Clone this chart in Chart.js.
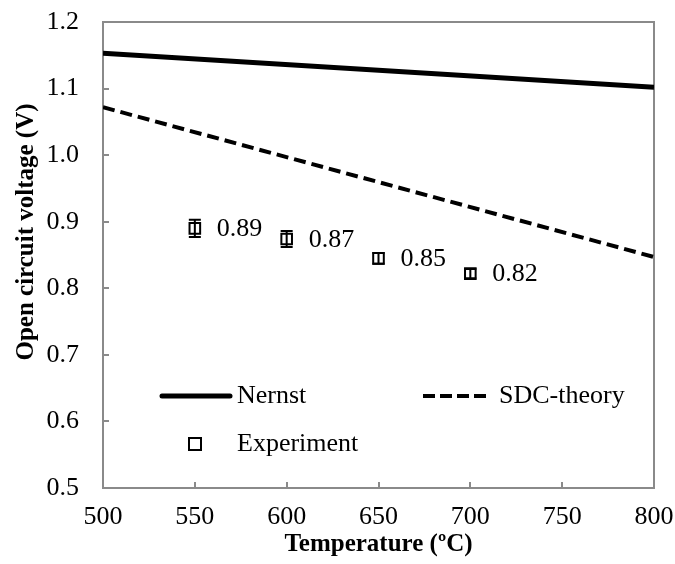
<!DOCTYPE html>
<html>
<head>
<meta charset="utf-8">
<script src="https://cdn.jsdelivr.net/npm/chart.js@4.4.0/dist/chart.umd.min.js"></script>
<style>
  html, body { margin: 0; padding: 0; background: #fff; }
  #wrap { width: 675px; height: 564px; }
</style>
</head>
<body>
<div id="wrap"><canvas id="ocvChart" width="675" height="564"></canvas></div>
<script>
// data
const nernstTemp = [500, 800];
const nernstVolt = [1.153, 1.102];
const sdcTemp = [500, 800];
const sdcVolt = [1.072, 0.847];
const expTemp = [550, 600, 650, 700];
const expVolt = [0.890, 0.874, 0.845, 0.822];
const expErr = [0.013, 0.012, 0.008, 0.007];
const expLabels = ['0.89', '0.87', '0.85', '0.82'];
const yTicks = [0.5, 0.6, 0.7, 0.8, 0.9, 1.0, 1.1, 1.2];

const serif = "'Liberation Serif', 'Times New Roman', serif";
const axisGray = '#8a8a8a';

function toPoints(xs, ys) {
    return xs.map((x, i) => ({ x: x, y: ys[i] }));
}

// frame, inward ticks, axis titles
const framePlugin = {
    id: 'frame',
    beforeDatasetsDraw(chart) {
        const { ctx, chartArea: a, scales } = chart;
        ctx.save();
        ctx.strokeStyle = axisGray;
        ctx.lineWidth = 2;
        ctx.strokeRect(a.left, a.top, a.right - a.left, a.bottom - a.top);
        ctx.beginPath();
        scales.y.ticks.forEach(t => {
            const py = Math.round(scales.y.getPixelForValue(t.value));
            ctx.moveTo(a.left, py);
            ctx.lineTo(a.left + 6, py);
        });
        scales.x.ticks.forEach(t => {
            const px = Math.round(scales.x.getPixelForValue(t.value));
            ctx.moveTo(px, a.bottom);
            ctx.lineTo(px, a.bottom - 6);
        });
        ctx.stroke();

        ctx.fillStyle = '#000';
        ctx.font = 'bold 25px ' + serif;
        ctx.textAlign = 'center';
        ctx.textBaseline = 'middle';
        ctx.fillText('Temperature (ºC)', (a.left + a.right) / 2, 545);
        ctx.translate(27, 232);
        ctx.rotate(-Math.PI / 2);
        ctx.fillText('Open circuit voltage (V)', 0, 0);
        ctx.restore();
    }
};

// error bars, value labels and legend
const extrasPlugin = {
    id: 'extras',
    afterDatasetsDraw(chart) {
        const { ctx, scales } = chart;
        ctx.save();
        ctx.strokeStyle = '#000';
        ctx.lineWidth = 2;
        expTemp.forEach((t, i) => {
            const px = scales.x.getPixelForValue(t);
            const top = scales.y.getPixelForValue(expVolt[i] + expErr[i]);
            const bot = scales.y.getPixelForValue(expVolt[i] - expErr[i]);
            ctx.beginPath();
            ctx.moveTo(px, top); ctx.lineTo(px, bot);
            ctx.moveTo(px - 6, top); ctx.lineTo(px + 6, top);
            ctx.moveTo(px - 6, bot); ctx.lineTo(px + 6, bot);
            ctx.stroke();
        });

        ctx.fillStyle = '#000';
        ctx.font = '26px ' + serif;
        ctx.textAlign = 'left';
        ctx.textBaseline = 'middle';
        expTemp.forEach((t, i) => {
            const px = scales.x.getPixelForValue(t);
            const py = scales.y.getPixelForValue(expVolt[i]);
            ctx.fillText(expLabels[i], px + 22, py + 1);
        });

        // legend
        ctx.lineCap = 'round';
        ctx.lineWidth = 5;
        ctx.beginPath();
        ctx.moveTo(162, 396); ctx.lineTo(230, 396);
        ctx.stroke();
        ctx.lineCap = 'butt';
        ctx.lineWidth = 4;
        ctx.setLineDash([12, 5]);
        ctx.beginPath();
        ctx.moveTo(423, 396); ctx.lineTo(489, 396);
        ctx.stroke();
        ctx.setLineDash([]);
        ctx.lineWidth = 2;
        ctx.fillStyle = '#fff';
        ctx.fillRect(189, 438, 12, 12);
        ctx.strokeRect(189, 438, 12, 12);
        ctx.fillStyle = '#000';
        ctx.fillText('Nernst', 237, 396);
        ctx.fillText('SDC-theory', 499, 396);
        ctx.fillText('Experiment', 237, 444);
        ctx.restore();
    }
};

new Chart(document.getElementById('ocvChart'), {
    type: 'scatter',
    data: {
        datasets: [
            {
                label: 'Nernst',
                data: toPoints(nernstTemp, nernstVolt),
                showLine: true,
                borderColor: '#000',
                borderWidth: 5,
                pointRadius: 0
            },
            {
                label: 'SDC-theory',
                data: toPoints(sdcTemp, sdcVolt),
                showLine: true,
                borderColor: '#000',
                borderWidth: 4,
                borderDash: [12, 6],
                pointRadius: 0
            },
            {
                label: 'Experiment',
                data: toPoints(expTemp, expVolt),
                showLine: false,
                pointStyle: 'rect',
                pointRadius: 7.5,
                pointBorderWidth: 2,
                pointBorderColor: '#000',
                pointBackgroundColor: '#fff'
            }
        ]
    },
    options: {
        responsive: false,
        animation: false,
        layout: { padding: { top: 22, right: 21, left: 0, bottom: 0 } },
        plugins: {
            legend: { display: false },
            tooltip: { enabled: false }
        },
        scales: {
            x: {
                type: 'linear',
                min: 500,
                max: 800,
                afterFit(scale) {
                    scale.height = 76;
                    scale.paddingLeft = 0;
                    scale.paddingRight = 0;
                },
                ticks: {
                    stepSize: 50,
                    color: '#000',
                    padding: 14,
                    maxRotation: 0,
                    font: { family: serif, size: 26 }
                },
                grid: { display: false, drawTicks: false },
                border: { display: false }
            },
            y: {
                type: 'linear',
                min: 0.5,
                max: 1.2,
                afterFit(scale) {
                    scale.width = 103;
                    scale.paddingTop = 0;
                    scale.paddingBottom = 0;
                },
                afterBuildTicks(scale) { scale.ticks = yTicks.map(v => ({ value: v })); },
                ticks: {
                    color: '#000',
                    padding: 24,
                    font: { family: serif, size: 26 },
                    callback: v => v.toFixed(1)
                },
                grid: { display: false, drawTicks: false },
                border: { display: false }
            }
        }
    },
    plugins: [framePlugin, extrasPlugin]
});
</script>
</body>
</html>
